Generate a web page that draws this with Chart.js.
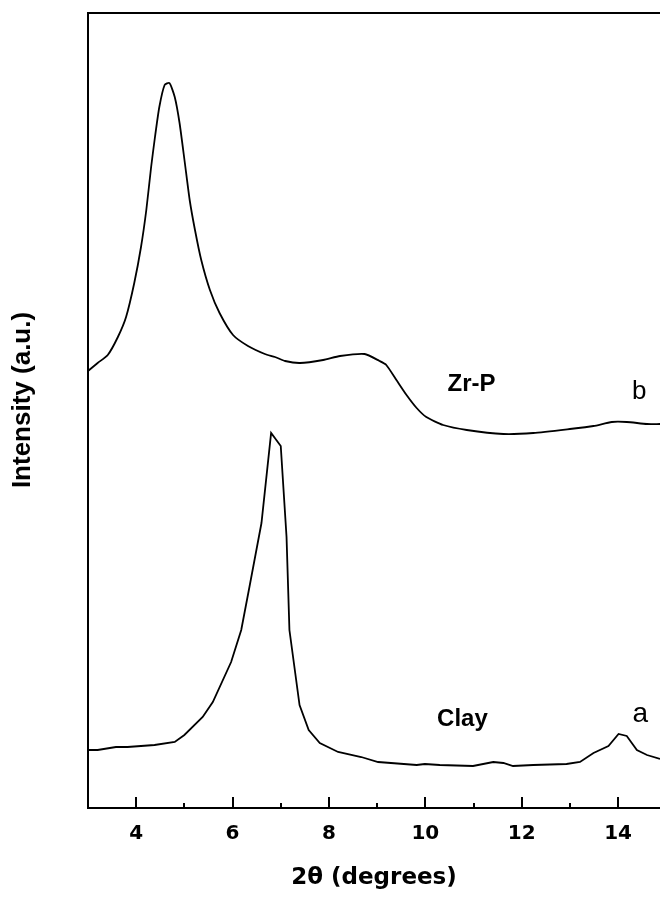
<!DOCTYPE html>
<html><head><meta charset="utf-8">
<script src="https://cdn.jsdelivr.net/npm/chart.js@4/dist/chart.umd.min.js"></script>
<style>html,body{margin:0;padding:0;background:#fff}canvas{display:block}</style>
</head><body>
<canvas id="c" width="660" height="897"></canvas>
<script>
// Curve a: Clay
const clayTheta = [3.00,3.20,3.58,3.82,4.38,4.80,5.00,5.38,5.59,5.97,6.18,6.35,6.60,6.80,7.00,7.12,7.18,7.39,7.58,7.81,8.19,8.67,9.02,9.82,9.99,10.30,10.99,11.41,11.62,11.82,12.24,12.93,13.21,13.49,13.80,14.01,14.18,14.39,14.60,14.87];
const clayIntensity = [58,58,61,61,63,66,73,91,106,146,178,221,285,375,362,271,178,103,78,65,56,51,46,43,44,43,42,46,45,42,43,44,46,55,62,74,72,58,53,49];
// Curve b: Zr-P
const zrpTheta = [3.00,3.20,3.41,3.62,3.79,3.96,4.10,4.21,4.31,4.39,4.48,4.59,4.69,4.80,4.90,5.01,5.11,5.22,5.35,5.53,5.73,6.01,6.32,6.67,6.88,7.09,7.40,7.88,8.23,8.74,9.05,9.19,9.40,9.61,9.82,10.02,10.37,10.86,11.62,12.24,13.00,13.49,13.87,14.18,14.60,14.87];
const zrpIntensity = [437,445,453,471,491,525,561,598,641,671,701,723,725,711,685,645,608,578,548,518,495,473,462,454,451,447,445,448,452,454,447,443,428,413,400,391,383,378,374,375,379,382,386,386,384,384];
// Axis ticks
const xTickValues = [4,6,8,10,12,14];
const xMinorTickValues = [5,7,9,11,13];
// Curve annotations (anchored in data units)
const labelTexts = ['Zr-P','b','Clay','a'];
const labelTheta = [10.96,14.44,10.77,14.46];
const labelIntensity = [417,409,82,86];
const xTitle = '2\u03B8 (degrees)';
const yTitle = 'Intensity (a.u.)';

const labelFonts = ['bold 24px "Liberation Sans", Arial','26px "Liberation Sans", Arial','bold 24px "Liberation Sans", Arial','28px "Liberation Sans", Arial'];

const decor = {
  id: 'decor',
  afterDraw(chart) {
    const {ctx, chartArea: a, scales: {x, y}} = chart;
    ctx.save();
    ctx.strokeStyle = '#000';
    ctx.fillStyle = '#000';
    ctx.lineWidth = 2;
    ctx.beginPath(); ctx.moveTo(a.left - 1, a.top); ctx.lineTo(a.right, a.top); ctx.stroke();
    xTickValues.forEach(v => {
      const px = Math.round(x.getPixelForValue(v));
      ctx.beginPath(); ctx.moveTo(px, a.bottom); ctx.lineTo(px, a.bottom - 11); ctx.stroke();
    });
    xMinorTickValues.forEach(v => {
      const px = Math.round(x.getPixelForValue(v));
      ctx.beginPath(); ctx.moveTo(px, a.bottom); ctx.lineTo(px, a.bottom - 5); ctx.stroke();
    });
    ctx.textAlign = 'center';
    ctx.textBaseline = 'alphabetic';
    labelTexts.forEach((t, i) => {
      ctx.font = labelFonts[i];
      ctx.fillText(t, x.getPixelForValue(labelTheta[i]), y.getPixelForValue(labelIntensity[i]));
    });
    ctx.translate(23, 400);
    ctx.rotate(-Math.PI / 2);
    ctx.font = 'bold 26px "Liberation Sans", Arial';
    ctx.textBaseline = 'middle';
    ctx.fillText(yTitle, 0, 0);
    ctx.restore();
  }
};

const toPts = (xs, ys) => xs.map((v, i) => ({x: v, y: ys[i]}));

new Chart(document.getElementById('c'), {
  type: 'scatter',
  data: {
    datasets: [
      {label: 'Clay', data: toPts(clayTheta, clayIntensity), showLine: true, borderColor: '#000', borderWidth: 1.8, pointRadius: 0, tension: 0},
      {label: 'Zr-P', data: toPts(zrpTheta, zrpIntensity), showLine: true, borderColor: '#000', borderWidth: 1.8, pointRadius: 0, tension: 0.2}
    ]
  },
  options: {
    responsive: false,
    animation: false,
    devicePixelRatio: 1,
    layout: {padding: {top: 13, left: 0, right: 0, bottom: 0}},
    plugins: {legend: {display: false}, tooltip: {enabled: false}},
    scales: {
      x: {
        type: 'linear', min: 3, max: 14.87,
        grid: {display: false, drawTicks: false},
        border: {display: true, width: 2, color: '#000'},
        afterBuildTicks: s => { s.ticks = xTickValues.map(v => ({value: v})); },
        afterFit: s => { s.height = 89; },
        ticks: {color: '#000', font: {family: '"DejaVu Sans"', size: 20, weight: 'bold'}, padding: 14, maxRotation: 0, autoSkip: false},
        title: {display: true, text: xTitle, color: '#000', font: {family: '"DejaVu Sans"', size: 23, weight: 'bold'}, padding: {top: 0, bottom: 5}}
      },
      y: {
        type: 'linear', min: 0, max: 795,
        grid: {display: false, drawTicks: false},
        border: {display: true, width: 2, color: '#000'},
        ticks: {display: false},
        afterFit: s => { s.width = 88; }
      }
    }
  },
  plugins: [decor]
});
</script>
</body></html>
